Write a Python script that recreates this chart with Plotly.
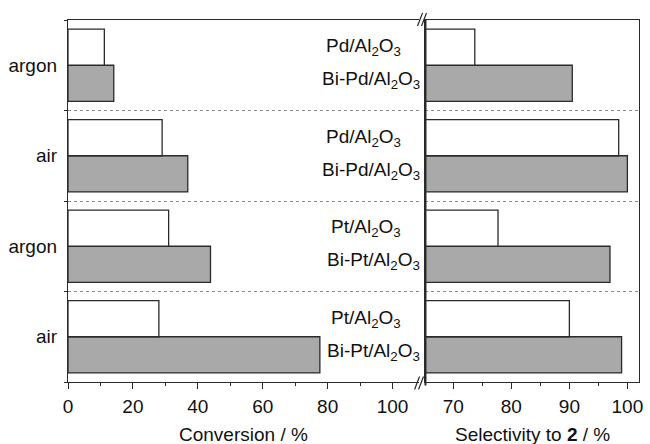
import plotly.graph_objects as go

# ---- data (top to bottom order) ----
atmospheres = ["argon", "air", "argon", "air"]
mono_catalysts = ["Pd/Al<sub>2</sub>O<sub>3</sub>", "Pd/Al<sub>2</sub>O<sub>3</sub>",
                  "Pt/Al<sub>2</sub>O<sub>3</sub>", "Pt/Al<sub>2</sub>O<sub>3</sub>"]
bi_catalysts = ["Bi-Pd/Al<sub>2</sub>O<sub>3</sub>", "Bi-Pd/Al<sub>2</sub>O<sub>3</sub>",
                "Bi-Pt/Al<sub>2</sub>O<sub>3</sub>", "Bi-Pt/Al<sub>2</sub>O<sub>3</sub>"]
conversion_mono = [11.2, 29.0, 31.0, 28.0]
conversion_bi = [14.1, 36.9, 43.9, 77.6]
selectivity_mono = [73.7, 98.5, 77.7, 90.0]
selectivity_bi = [90.5, 100.0, 97.0, 99.0]
conv_ticks = [0, 20, 40, 60, 80, 100]
sel_ticks = [70, 80, 90, 100]

n = len(atmospheres)
ypos = [n - 1 - i for i in range(n)]  # top row gets highest y

FONT = "Liberation Sans, Arial, sans-serif"
EDGE = "#2a2a2a"
GREY = "#a9a9a9"

# plot area in pixels: x 68..643, y 20..382.5
L, R, T, B = 68, 643, 20, 382.5
def px(x):
    return (x - L) / (R - L)
def py(y):
    return (B - y) / (B - T)

fig = go.Figure()

# grey (Bi-) bars first -> lower slot of each group; white bars second -> upper slot
fig.add_trace(go.Bar(y=ypos, x=conversion_bi, orientation="h", name="Bi",
                     marker=dict(color=GREY, line=dict(color=EDGE, width=1.3)),
                     xaxis="x", yaxis="y", showlegend=False))
fig.add_trace(go.Bar(y=ypos, x=conversion_mono, orientation="h", name="mono",
                     marker=dict(color="white", line=dict(color=EDGE, width=1.3)),
                     xaxis="x", yaxis="y", showlegend=False))
fig.add_trace(go.Bar(y=ypos, x=selectivity_bi, orientation="h", name="Bi",
                     marker=dict(color=GREY, line=dict(color=EDGE, width=1.3)),
                     xaxis="x2", yaxis="y2", showlegend=False))
fig.add_trace(go.Bar(y=ypos, x=selectivity_mono, orientation="h", name="mono",
                     marker=dict(color="white", line=dict(color=EDGE, width=1.3)),
                     xaxis="x2", yaxis="y2", showlegend=False))

# catalyst labels
annotations = []
for i in range(n):
    annotations.append(dict(x=px(405), y=ypos[i] + 0.2, xref="paper", yref="y",
                            text=mono_catalysts[i], showarrow=False,
                            xanchor="right", yanchor="middle", yshift=0,
                            font=dict(family=FONT, size=19, color="#111")))
    annotations.append(dict(x=px(424), y=ypos[i] - 0.2, xref="paper", yref="y",
                            text=bi_catalysts[i], showarrow=False,
                            xanchor="right", yanchor="middle", yshift=3,
                            font=dict(family=FONT, size=19, color="#111")))

# axis titles
annotations.append(dict(x=px(245), y=py(435.5), xref="paper", yref="paper",
                        text="Conversion / %", showarrow=False,
                        xanchor="center", yanchor="middle",
                        font=dict(family=FONT, size=19, color="#111")))
annotations.append(dict(x=px(536), y=py(435.5), xref="paper", yref="paper",
                        text="Selectivity to <b>2</b> / %", showarrow=False,
                        xanchor="center", yanchor="middle",
                        font=dict(family=FONT, size=19, color="#111")))

shapes = []
# thicker divider line between panels
shapes.append(dict(type="line", xref="paper", yref="paper",
                   x0=px(428), x1=px(428), y0=py(386), y1=py(20),
                   line=dict(color=EDGE, width=2)))
# axis break marks (//) at top and bottom
for (x0, y0) in [(420, 26), (424, 26), (417, 390), (421, 390)]:
    shapes.append(dict(type="line", xref="paper", yref="paper",
                       x0=px(x0), y0=py(y0), x1=px(x0 + 5), y1=py(y0 - 13),
                       line=dict(color=EDGE, width=1.2)))

axis_common = dict(showline=True, linecolor=EDGE, linewidth=1.3,
                   tickfont=dict(family=FONT, size=19, color="#111"),
                   zeroline=False, showgrid=False)

fig.update_layout(
    width=650, height=444,
    margin=dict(l=L, r=650 - R, t=T, b=444 - B, pad=0),
    paper_bgcolor="white", plot_bgcolor="white",
    barmode="group", bargap=0.2, bargroupgap=0,
    font=dict(family=FONT, size=19, color="#111"),
    xaxis=dict(domain=[0, px(421)], range=[0, 108], mirror=True,
               tickvals=conv_ticks, ticks="outside", ticklen=6, tickwidth=1.2,
               tickcolor=EDGE, ticklabelstandoff=1,
               minor=dict(tickvals=[10, 30, 50, 70, 90], ticks="outside",
                          ticklen=3, tickwidth=1.2, tickcolor=EDGE),
               **axis_common),
    yaxis=dict(domain=[0, 1], range=[-0.5, n - 0.5], anchor="x",
               tickvals=ypos, ticktext=atmospheres, ticks="",
               ticklabelstandoff=6,
               minor=dict(tickvals=[i + 0.5 for i in range(-1, n)],
                          ticks="outside", ticklen=3, tickwidth=1.2, tickcolor=EDGE,
                          showgrid=True, gridcolor="#8a8a8a", griddash="dot",
                          gridwidth=1),
               **axis_common),
    xaxis2=dict(domain=[px(428), 1], range=[65.2, 102], anchor="y2", mirror=True,
                tickvals=sel_ticks, ticks="outside", ticklen=6, tickwidth=1.2,
                tickcolor=EDGE, ticklabelstandoff=1,
                minor=dict(tickvals=[75, 85, 95], ticks="outside",
                           ticklen=3, tickwidth=1.2, tickcolor=EDGE),
                **axis_common),
    yaxis2=dict(domain=[0, 1], range=[-0.5, n - 0.5], anchor="x2", mirror=True,
                tickvals=ypos, showticklabels=False, ticks="",
                minor=dict(tickvals=[i + 0.5 for i in range(n - 1)],
                           showgrid=True, gridcolor="#8a8a8a", griddash="dot",
                           gridwidth=1),
                **axis_common),
    annotations=annotations,
    shapes=shapes,
)

fig.write_html("out.html")
